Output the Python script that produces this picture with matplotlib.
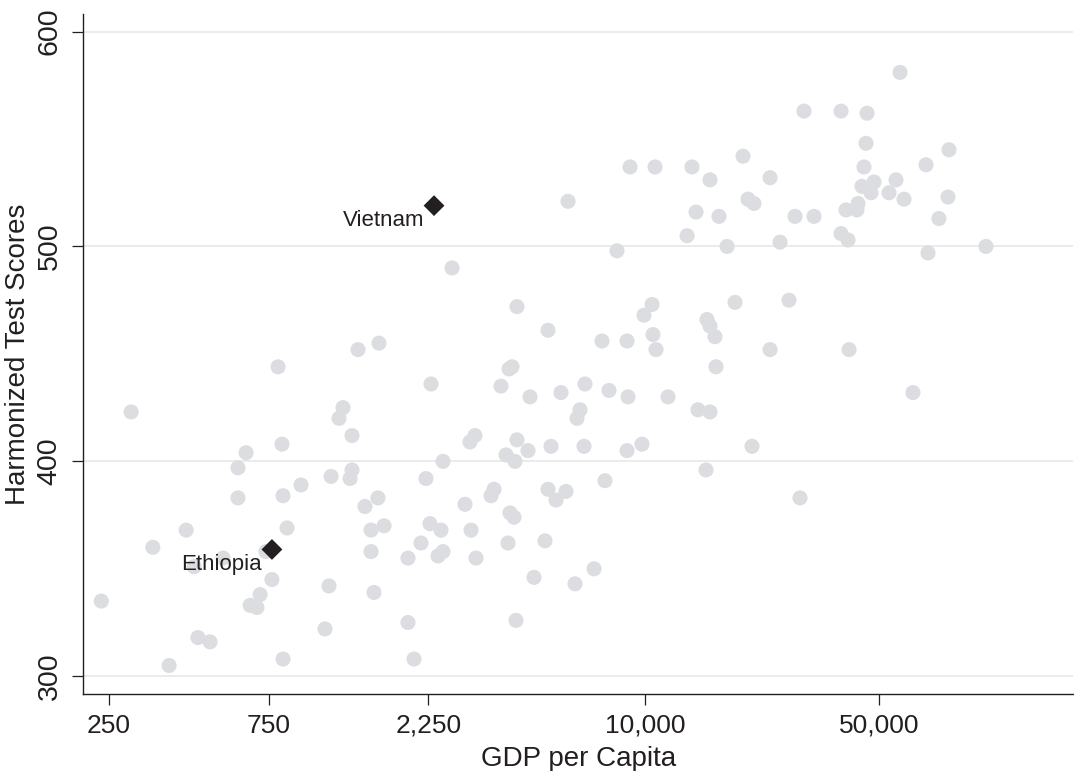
import numpy as np
import matplotlib
matplotlib.use("Agg")
import matplotlib.pyplot as plt
from matplotlib.ticker import FixedLocator, FuncFormatter

plt.rcParams['font.family'] = ['Liberation Sans', 'DejaVu Sans']

# GDP per capita and harmonized test scores, one entry per country
gdp = [57800, 29850, 38520, 46060, 45740, 80950, 19620, 9016, 10710, 13810,
       45110, 69120, 15630, 23630, 56220, 48330, 44490, 47340, 53580, 59400,
       80400, 5884, 20300, 21160, 14200, 16630, 28060, 31980, 43290, 39860,
       42990, 75550, 38520, 40420, 25310, 13350, 17580, 8243, 70080, 104400,
       2649, 26920, 18570, 4142, 10490, 9927, 15310, 15630, 5127, 10560,
       16180, 7433, 8831, 1602, 1387, 10780, 23630, 40700, 800, 16290,
       4003, 3921, 2292, 3710, 4530, 5607, 6614, 7800, 8892, 11710,
       63190, 6390, 6260, 14390, 15630, 291, 1251, 1217, 1331, 3102,
       2998, 4142, 4468, 5235, 6569, 8831, 9790, 20870, 822, 642,
       3841, 4086, 2489, 607, 2214, 7587, 15210, 1152, 1331, 1313,
       3536, 3463, 5127, 5803, 5417, 2896, 607, 828, 1591, 29040,
       1455, 3948, 4058, 2276, 2455, 3019, 425, 851, 1659, 1517,
       2139, 3894, 5022, 338, 1517, 1956, 2406, 2489, 3124, 548,
       449, 736, 4657, 6174, 7037, 767, 1136, 707, 660, 692,
       1548, 237, 1956, 4114, 1105, 461, 501, 378, 828, 2039,
       937]
score = [581, 563, 563, 562, 548, 545, 542, 537, 537, 537,
         537, 538, 531, 532, 531, 530, 528, 525, 525, 522,
         523, 521, 522, 520, 516, 514, 514, 514, 520, 517,
         517, 513, 506, 503, 502, 505, 500, 498, 497, 500,
         490, 475, 474, 472, 473, 468, 466, 463, 461, 459,
         458, 456, 456, 455, 452, 452, 452, 452, 444, 444,
         444, 443, 436, 435, 430, 432, 436, 433, 430, 430,
         432, 424, 420, 424, 423, 423, 425, 420, 412, 412,
         409, 410, 405, 407, 407, 405, 408, 407, 408, 404,
         403, 400, 400, 397, 392, 391, 396, 393, 396, 392,
         387, 384, 387, 386, 382, 380, 383, 384, 383, 383,
         379, 376, 374, 371, 368, 368, 368, 369, 370, 368,
         362, 362, 363, 360, 358, 355, 356, 358, 355, 355,
         351, 358, 346, 343, 350, 345, 342, 338, 333, 332,
         339, 335, 325, 326, 322, 318, 316, 305, 308, 308,
         389]

# highlighted countries
hl_names = ['Vietnam', 'Ethiopia']
hl_gdp = [2340, 767]
hl_score = [519, 359]

xticks = [250, 750, 2250, 10000, 50000]
yticks = [300, 400, 500, 600]

fig = plt.figure(figsize=(10.74, 7.71), dpi=100)
ax = fig.add_axes([0.0776, 0.0995, 0.9215, 0.8824])

ax.set_xscale('log')
ax.set_xlim(209.5, 190100)
ax.set_ylim(291.6, 608.2)

for y in yticks:
    ax.axhline(y, color='#e9e9e9', lw=1.3, zorder=0)

ax.scatter(gdp, score, s=118, color='#dcdde0', edgecolors='none', zorder=2)
ax.scatter(hl_gdp, hl_score, s=225, marker=(4, 0, 0), color='#231f20',
           edgecolors='none', zorder=3)
for name, gx, gy in zip(hl_names, hl_gdp, hl_score):
    ax.annotate(name, (gx, gy), xytext=(-7, -11), textcoords='offset points',
                ha='right', va='center', fontsize=16, color='#231f20', zorder=4)

ax.xaxis.set_major_locator(FixedLocator(xticks))
ax.xaxis.set_minor_locator(FixedLocator([]))
ax.xaxis.set_major_formatter(FuncFormatter(lambda v, p: '{:,}'.format(int(round(v)))))
ax.yaxis.set_major_locator(FixedLocator(yticks))

for side in ['top', 'right']:
    ax.spines[side].set_visible(False)
for side in ['left', 'bottom']:
    ax.spines[side].set_linewidth(1.0)
    ax.spines[side].set_color('#231f20')

ax.tick_params(axis='both', length=8, width=0.9, color='#231f20',
               labelcolor='#231f20')
ax.tick_params(axis='x', pad=6, labelsize=19)
ax.tick_params(axis='y', pad=7, labelsize=20.5)
for lab in ax.get_yticklabels():
    lab.set_rotation(90)
    lab.set_va('center')

ax.set_xlabel('GDP per Capita', fontsize=20, color='#231f20', labelpad=6)
ax.set_ylabel('Harmonized Test Scores', fontsize=20, color='#231f20', labelpad=4)

fig.savefig('out.png', dpi=100)
